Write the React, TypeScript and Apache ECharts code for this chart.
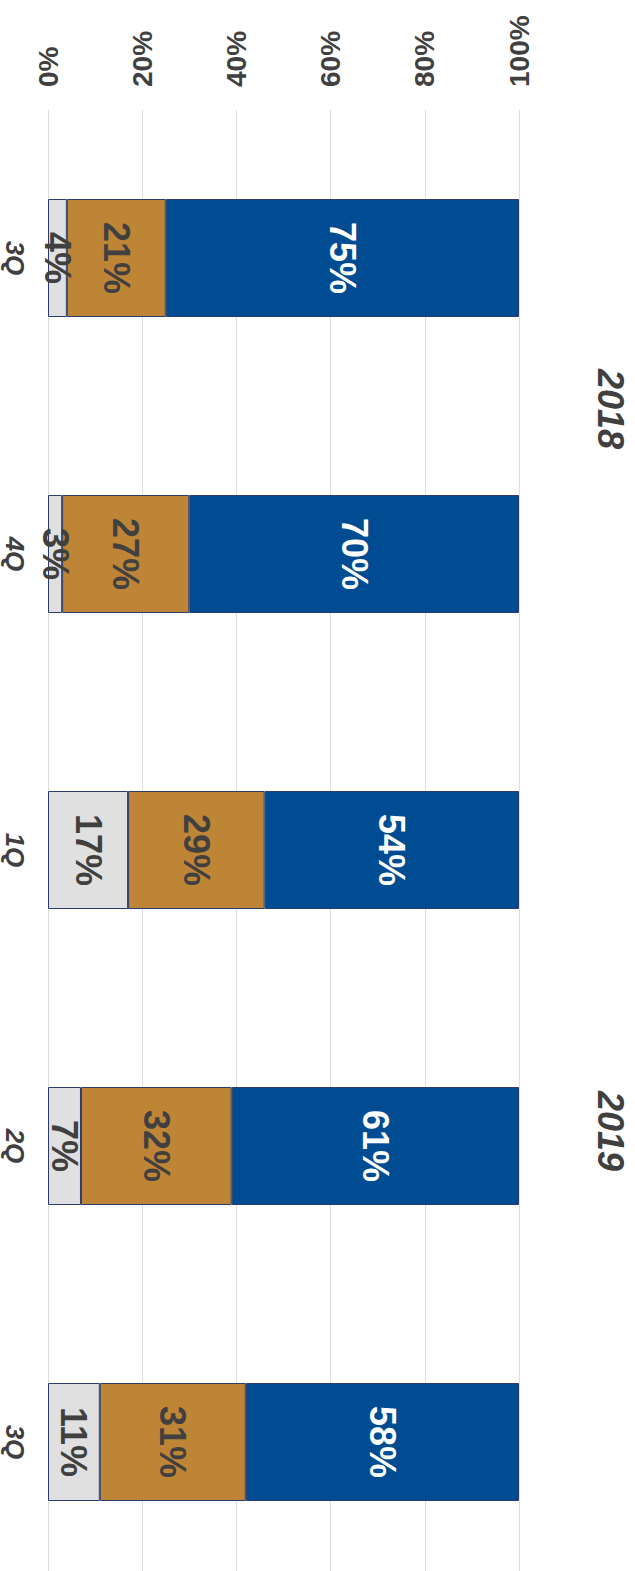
import React, { useEffect, useRef } from 'react';
import * as echarts from 'echarts';

const categories = ['3Q', '4Q', '1Q', '2Q', '3Q'];
const years = ['2018', '2019'];
const yearSpans = [
  [0, 1],
  [2, 4],
];
const otherShare = [4, 3, 17, 7, 11];
const midShare = [21, 27, 29, 32, 31];
const mainShare = [75, 70, 54, 61, 58];

const FONT = 'Liberation Sans, Arial, sans-serif';
const DARK = '#404040';

export default function App() {
  const ref = useRef<HTMLDivElement>(null);
  useEffect(() => {
    if (!ref.current) return;
    const chart = echarts.init(ref.current, undefined, { renderer: 'svg' });
    const border = { borderColor: '#2B3C6A', borderWidth: 1 };
    const labelBase = {
      show: true,
      position: 'inside',
      rotate: -90,
      fontSize: 36,
      fontWeight: 'bold',
      fontFamily: FONT,
      formatter: '{c}%',
    };
    chart.setOption({
      animation: false,
      backgroundColor: '#ffffff',
      grid: { left: 48, right: 116, top: 110, bottom: 0, containLabel: false, outerBoundsMode: 'none' },
      xAxis: {
        type: 'value',
        position: 'top',
        min: 0,
        max: 100,
        interval: 20,
        axisLine: { show: false },
        axisTick: { show: false },
        splitLine: { show: true, lineStyle: { color: '#dcdcdc', width: 1 } },
        axisLabel: {
          formatter: '{value}%',
          rotate: -90,
          margin: 23,
          fontSize: 28,
          fontWeight: 'bold',
          fontFamily: FONT,
          color: DARK,
        },
      },
      yAxis: {
        type: 'category',
        data: categories,
        inverse: true,
        axisLine: { show: false },
        axisTick: { show: false },
        splitLine: { show: false },
        axisLabel: {
          rotate: -90,
          margin: 20,
          fontSize: 26,
          fontWeight: 'bold',
          fontStyle: 'italic',
          fontFamily: FONT,
          color: DARK,
        },
      },
      series: [
        {
          type: 'bar',
          stack: 'total',
          data: otherShare,
          barWidth: 118,
          itemStyle: { color: '#E0E0E0', ...border },
          label: { ...labelBase, color: DARK },
        },
        {
          type: 'bar',
          stack: 'total',
          data: midShare,
          barWidth: 118,
          itemStyle: { color: '#BE8536', ...border },
          label: { ...labelBase, color: DARK },
        },
        {
          type: 'bar',
          stack: 'total',
          data: mainShare,
          barWidth: 118,
          itemStyle: { color: '#004C93', ...border },
          label: { ...labelBase, color: '#ffffff' },
        },
      ],
    });
    const yearTexts = years.map((yr, i) => {
      const [a, b] = yearSpans[i];
      const ya = chart.convertToPixel({ yAxisIndex: 0 }, a) as number;
      const yb = chart.convertToPixel({ yAxisIndex: 0 }, b) as number;
      return {
        type: 'text',
        x: 610,
        y: (ya + yb) / 2 + (i === 0 ? 3 : -15),
        rotation: -Math.PI / 2,
        style: {
          text: yr,
          fontSize: 36,
          fontWeight: 'bold',
          fontStyle: 'italic',
          fontFamily: FONT,
          fill: DARK,
          align: 'center',
          verticalAlign: 'middle',
        },
      };
    });
    chart.setOption({ graphic: yearTexts });
    return () => chart.dispose();
  }, []);
  return (
    <div style={{ position: 'absolute', left: 0, top: 0, width: 635, height: 1571, overflow: 'hidden', background: '#fff' }}>
      <div ref={ref} style={{ width: 635, height: 1590 }} />
    </div>
  );
}
